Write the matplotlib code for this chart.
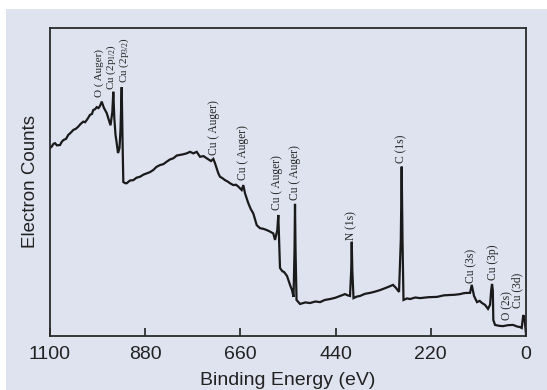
import matplotlib
matplotlib.use("Agg")
import matplotlib.pyplot as plt
from matplotlib.patches import Rectangle

# Binding energy (eV) and relative electron counts (0-100 scale)
energy = [1100, 1096.1, 1092.0, 1088.4, 1084.0, 1076.9, 1073.0, 1069.3, 1063.0, 1057.7,
          1052.0, 1046.2, 1040.0, 1034.6, 1029.0, 1023.0, 1019.0, 1015.2, 1011.0, 1007.6,
          1003.0, 999.9, 996.0, 992.1, 988.0, 984.4, 980.5, 975.2, 969.0, 964.8,
          960.2, 956.0, 953.7, 951.4, 948.6, 945.9, 942.8, 939.4, 937.1, 934.3,
          932.4, 930.6, 926.0, 922.8, 915.0, 907.5, 900.0, 892.0, 884.0, 876.5,
          869.0, 861.3, 854.0, 845.8, 838.0, 830.3, 823.0, 815.0, 807.0, 799.6,
          792.0, 784.1, 776.4, 768.8, 761.0, 753.3, 745.0, 737.9, 728.0, 722.6,
          718.7, 711.0, 707.1, 701.0, 695.6, 690.0, 684.0, 676.4, 670.0, 664.8,
          657.0, 653.3, 649.3, 641.7, 636.0, 630.2, 622.3, 614.7, 607.0, 599.2,
          591.6, 584.0, 580.0, 574.7, 572.4, 570.1, 568.5, 563.0, 559.2, 552.3,
          545.3, 540.7, 537.2, 534.9, 533.8, 532.6, 530.3, 522.2, 510.0, 499.1,
          487.0, 476.0, 465.0, 452.9, 441.0, 429.8, 418.2, 412.0, 406.7, 403.9,
          402.7, 401.4, 398.6, 391.0, 383.6, 372.0, 360.4, 349.0, 337.3, 328.0,
          318.8, 307.3, 300.4, 293.4, 289.3, 287.3, 285.4, 283.1, 275.0, 268.0,
          256.0, 244.9, 225.0, 205.6, 190.0, 175.6, 164.0, 152.4, 144.0, 136.3,
          129.3, 125.4, 120.1, 113.2, 107.0, 101.6, 94.7, 87.8, 83.1, 80.4,
          78.5, 76.7, 75.5, 71.6, 62.0, 53.1, 42.0, 30.0, 21.0, 13.9,
          10.0, 6.3, 3.5, 0.0]
counts = [61.0, 61.5, 62.4, 62.6, 61.9, 62.0, 63.0, 63.6, 64.0, 65.3,
          66.0, 66.9, 67.3, 68.0, 68.9, 69.6, 69.4, 70.1, 71.0, 71.8,
          72.1, 73.4, 73.6, 74.3, 74.0, 74.7, 76.1, 74.0, 72.4, 70.5,
          68.4, 72.7, 79.3, 70.8, 65.3, 62.7, 59.4, 61.0, 66.9, 80.8,
          63.6, 50.0, 49.6, 49.6, 50.5, 50.6, 51.4, 51.7, 52.4, 52.8,
          53.2, 53.9, 54.9, 55.5, 55.8, 56.6, 57.3, 57.7, 58.6, 58.8,
          59.0, 59.3, 59.8, 59.3, 59.8, 58.2, 58.4, 57.7, 56.8, 57.5,
          56.1, 52.8, 51.7, 51.2, 50.6, 50.2, 49.6, 49.0, 49.1, 48.5,
          47.4, 49.0, 46.3, 43.1, 41.2, 39.8, 36.0, 35.0, 34.8, 34.4,
          33.9, 33.3, 31.2, 34.4, 39.3, 29.5, 22.1, 21.0, 20.8, 19.5,
          16.6, 14.9, 12.7, 27.9, 42.9, 27.9, 11.7, 10.4, 10.9, 10.7,
          11.2, 11.0, 11.7, 12.0, 12.4, 13.0, 13.6, 13.2, 13.0, 21.4,
          30.6, 21.4, 12.3, 12.8, 13.0, 13.7, 14.0, 14.4, 14.9, 15.4,
          15.9, 16.6, 15.6, 14.3, 31.2, 55.0, 31.2, 11.7, 12.2, 12.0,
          12.5, 12.3, 12.6, 12.7, 13.2, 13.3, 13.4, 13.6, 13.9, 14.0,
          14.0, 16.6, 13.0, 11.0, 11.4, 10.7, 10.1, 8.8, 10.1, 14.9,
          16.9, 14.9, 5.2, 3.6, 3.3, 3.2, 3.5, 3.6, 3.1, 2.9,
          2.6, 6.8, 5.8, 0.6]

# Peak labels: text, energy position, bottom of label (counts scale)
peak_labels = ["O ( Auger)", "Cu (2p$\\mathregular{_{1/2}}$)", "Cu (2p$\\mathregular{_{3/2}}$)",
               "Cu ( Auger)", "Cu ( Auger)", "Cu ( Auger)", "Cu ( Auger)",
               "N (1s)", "C (1s)", "Cu (3s)", "Cu (3p)", "O (2s)", "Cu (3d)"]
label_energy = [986.5, 957.5, 927.5, 721.0, 653.3, 576.0, 533.8,
                402.7, 287.3, 125.4, 76.9, 43.8, 19.6]
label_bottom = [77.7, 79.9, 82.1, 58.8, 50.6, 40.9, 44.2,
                31.2, 56.2, 17.2, 18.2, 5.2, 9.1]
label_size = [8.0, 8.0, 8.0, 8.3, 8.3, 8.3, 8.3, 8.3, 8.3, 8.3, 8.3, 8.3, 8.3]

xticks = [1100, 880, 660, 440, 220, 0]

plt.rcParams['mathtext.fontset'] = 'custom'
plt.rcParams['mathtext.rm'] = 'Liberation Serif'

bg = '#dfe3f0'
fig = plt.figure(figsize=(5.47, 3.90), dpi=100, facecolor='white')
fig.patches.append(Rectangle((6 / 547, 0), 1 - 6 / 547, (390 - 9) / 390,
                             transform=fig.transFigure, facecolor=bg,
                             edgecolor='none', zorder=-10))
ax = fig.add_axes([50 / 547, 54 / 390, 476 / 547, 308 / 390])
ax.set_facecolor(bg)

ax.plot(energy, counts, color='#1a1a1a', linewidth=1.6, solid_joinstyle='miter')

for txt, ex, yb, fs in zip(peak_labels, label_energy, label_bottom, label_size):
    ax.text(ex, yb, txt, rotation=90, ha='center', va='bottom',
            fontsize=fs, family='Liberation Serif', color='#222222')

ax.set_xlim(1100, 0)
ax.set_ylim(0, 100)
ax.set_xticks(xticks)
ax.set_xticklabels([str(t) for t in xticks], family='Liberation Sans', fontsize=14)
ax.tick_params(axis='x', direction='in', length=6, width=1.2, pad=7, colors='#222222')
ax.set_yticks([])
for s in ax.spines.values():
    s.set_linewidth(1.3)
    s.set_color('#2a2a2a')

ax.set_xlabel('Binding Energy (eV)', family='Liberation Sans', fontsize=14,
              labelpad=7, color='#222222')
ax.set_ylabel('Electron Counts', family='Liberation Sans', fontsize=13.5,
              labelpad=8, color='#222222')

fig.savefig('out.png', dpi=100, facecolor='white')
